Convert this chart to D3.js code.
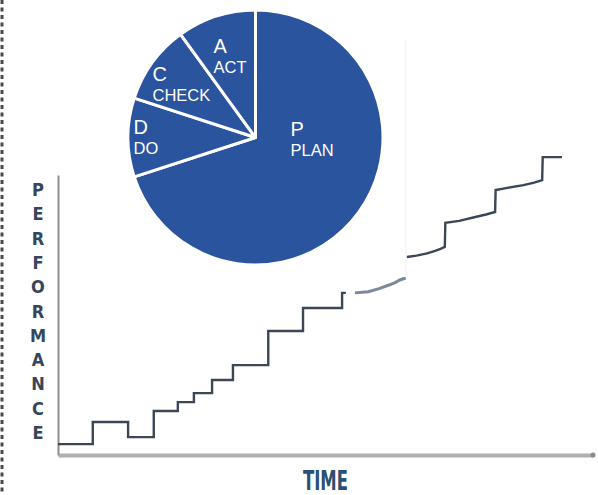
<!DOCTYPE html>
<html>
<head>
<meta charset="utf-8">
<script src="https://cdn.jsdelivr.net/npm/d3@7"></script>
<style>
  html, body { margin: 0; padding: 0; background: #fff; }
  svg { display: block; }
</style>
</head>
<body>
<div class="chart"></div>
<script>
// PDCA phases, clockwise from 12 o'clock
const phases = ['P', 'D', 'C', 'A'];
const phaseNames = ['PLAN', 'DO', 'CHECK', 'ACT'];
const phaseShare = [70, 10, 10, 10];

// staircase: [time, performance]
const mainSteps = [
  [0, 3.9], [6.5, 11.8], [13.1, 6.4], [17.9, 15.7], [22.4, 18.9], [25.4, 22.1],
  [28.8, 26.8], [32.7, 32.1], [39.3, 44.3], [45.8, 52.5], [53.1, 57.9], [53.8, 57.9]
];
const fadedRun = [
  [55.5, 57.9], [58, 58.3], [60, 59.4], [62, 60.8], [63, 61.6], [64, 62.6], [65, 63.2]
];
const upperRun = [
  [65.2, 70.7], [67, 71.2], [69, 72.0], [70.5, 72.9], [71.5, 73.6], [72.3, 74.3],
  [72.4, 82.9], [75, 83.6], [78, 85.0], [80, 85.9], [81.7, 86.8],
  [81.8, 94.6], [84, 95.4], [87, 96.4], [89, 97.3], [90.5, 98.2],
  [90.6, 106.4], [94.2, 106.4]
];

const yTitle = 'PERFORMANCE';
const xTitle = 'TIME';

const width = 598, height = 495;

let svg = d3.select('.chart')
  .append('svg')
  .attr('width', width)
  .attr('height', height);

// dashed edge on the left
svg.append('line')
  .attr('x1', 2).attr('x2', 2)
  .attr('y1', 0).attr('y2', height)
  .attr('stroke', '#4a4a4a')
  .attr('stroke-width', 3)
  .attr('stroke-dasharray', '4 3.5');

// scales
let x = d3.scaleLinear().domain([0, 100]).range([58, 593]);
let y = d3.scaleLinear().domain([0, 100]).range([455, 175]);

// axes, no ticks
svg.append('g')
  .attr('transform', 'translate(0,' + y(0) + ')')
  .call(d3.axisBottom(x).tickValues([]).tickSizeOuter(0))
  .select('.domain')
  .attr('stroke', '#b0b0b0')
  .attr('stroke-width', 4);

svg.append('g')
  .attr('transform', 'translate(' + x(0) + ',0)')
  .call(d3.axisLeft(y).tickValues([]).tickSizeOuter(0))
  .select('.domain')
  .attr('stroke', '#8e8e8e')
  .attr('stroke-width', 2);

svg.append('circle')
  .attr('cx', x(100)).attr('cy', y(0)).attr('r', 2.5)
  .attr('fill', '#8a8a8a');

// staircase lines
let stepLine = d3.line()
  .x(d => x(d[0]))
  .y(d => y(d[1]))
  .curve(d3.curveStepAfter);

let plainLine = d3.line()
  .x(d => x(d[0]))
  .y(d => y(d[1]));

svg.append('path')
  .attr('d', stepLine(mainSteps))
  .attr('fill', 'none')
  .attr('stroke', '#3b4656')
  .attr('stroke-width', 2.4);

svg.append('path')
  .attr('d', plainLine(fadedRun))
  .attr('fill', 'none')
  .attr('stroke', '#7a879c')
  .attr('stroke-width', 3);

svg.append('path')
  .attr('d', plainLine(upperRun))
  .attr('fill', 'none')
  .attr('stroke', '#3b4656')
  .attr('stroke-width', 2.4);

// white box behind the pie (pasted image)
svg.append('rect')
  .attr('x', 120).attr('y', 0)
  .attr('width', 286).attr('height', 277)
  .attr('fill', '#fff');
svg.append('line')
  .attr('x1', 406).attr('x2', 406)
  .attr('y1', 40).attr('y2', 277)
  .attr('stroke', '#f3eef2')
  .attr('stroke-width', 1);

// pie
const cx = 255.5, cy = 137.5, radius = 127.5;

let pie = d3.pie().sort(null).value(d => d);
let arc = d3.arc().innerRadius(0).outerRadius(radius);

let pieG = svg.append('g')
  .attr('transform', 'translate(' + cx + ',' + cy + ')');

pieG.selectAll('path')
  .data(pie(phaseShare))
  .enter()
  .append('path')
  .attr('d', arc)
  .attr('fill', '#2b549e')
  .attr('stroke', '#fff')
  .attr('stroke-width', 3)
  .attr('stroke-linejoin', 'round');

// label spots, offsets from the pie centre
const labelOffset = { P: [35, -2], D: [-122, -4], C: [-103, -57], A: [-42, -85] };

let labels = pieG.selectAll('text.phase')
  .data(phases)
  .enter()
  .append('text')
  .attr('class', 'phase')
  .attr('x', d => labelOffset[d][0])
  .attr('y', d => labelOffset[d][1])
  .attr('fill', '#fff')
  .style('font-family', '"Liberation Sans", Arial, sans-serif');

labels.append('tspan')
  .style('font-size', '20px')
  .text(d => d);

labels.append('tspan')
  .attr('x', d => labelOffset[d][0])
  .attr('dy', 20)
  .style('font-size', '16.5px')
  .text((d, i) => phaseNames[i]);

// axis titles
svg.append('g')
  .selectAll('text')
  .data(yTitle.split(''))
  .enter()
  .append('text')
  .attr('x', 38)
  .attr('y', (d, i) => 196 + i * 24.3)
  .attr('text-anchor', 'middle')
  .attr('fill', '#34455c')
  .style('font-family', '"DejaVu Sans Condensed", "DejaVu Sans", sans-serif')
  .style('font-weight', 'bold')
  .style('font-size', '18px')
  .text(d => d);

svg.append('text')
  .attr('x', 303)
  .attr('y', 490)
  .attr('textLength', 45)
  .attr('lengthAdjust', 'spacingAndGlyphs')
  .attr('fill', '#2c4f72')
  .style('font-family', '"DejaVu Sans Condensed", "DejaVu Sans", sans-serif')
  .style('font-weight', 'bold')
  .style('font-size', '27px')
  .text(xTitle);
</script>
</body>
</html>
